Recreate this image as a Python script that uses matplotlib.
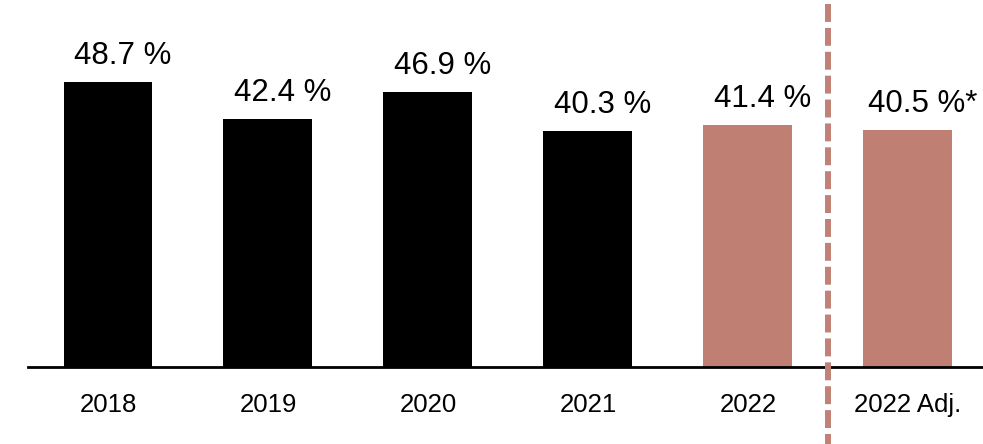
import matplotlib.pyplot as plt

plt.rcParams['font.family'] = ['Liberation Sans', 'DejaVu Sans']

# ------------------ Data ------------------ #
years = ["2018", "2019", "2020", "2021", "2022", "2022 Adj."]
shares = [48.7, 42.4, 46.9, 40.3, 41.4, 40.5]
labels = ["48.7 %", "42.4 %", "46.9 %", "40.3 %", "41.4 %", "40.5 %*"]
colors = ["#000000", "#000000", "#000000", "#000000", "#BF8073", "#BF8073"]

# ------------------ Plot ------------------ #
fig = plt.figure(figsize=(9.83, 4.44), dpi=100)
ax = fig.add_axes([0.0285, 0.1734, 0.9715, 0.8266])

x = list(range(len(years)))
ax.bar(x, shares, width=0.556, color=colors)

for xi, val, lab in zip(x, shares, labels):
    ax.annotate(lab, (xi, val), xytext=(15, 11), textcoords="offset pixels",
                ha="center", va="bottom", fontsize=22.5)

ax.set_xlim(-0.5, 5.47)
ax.set_ylim(0, 62.7)

# separator between actual and adjusted (drawn top-down so the dash starts at the top)
sep = (x[4] + x[5]) / 2
ax.plot([sep, sep], [62.0, -13.5], color="#C08276", lw=4.3,
        dashes=(3, 1), solid_capstyle="butt", dash_capstyle="butt",
        clip_on=False, zorder=3)

for s in ["top", "right", "left"]:
    ax.spines[s].set_visible(False)
ax.spines["bottom"].set_linewidth(2)
ax.set_yticks([])
ax.set_xticks(x)
ax.set_xticklabels(years, fontsize=18.5)
ax.tick_params(axis="x", length=0, pad=19)

fig.savefig("out.png", dpi=100)
